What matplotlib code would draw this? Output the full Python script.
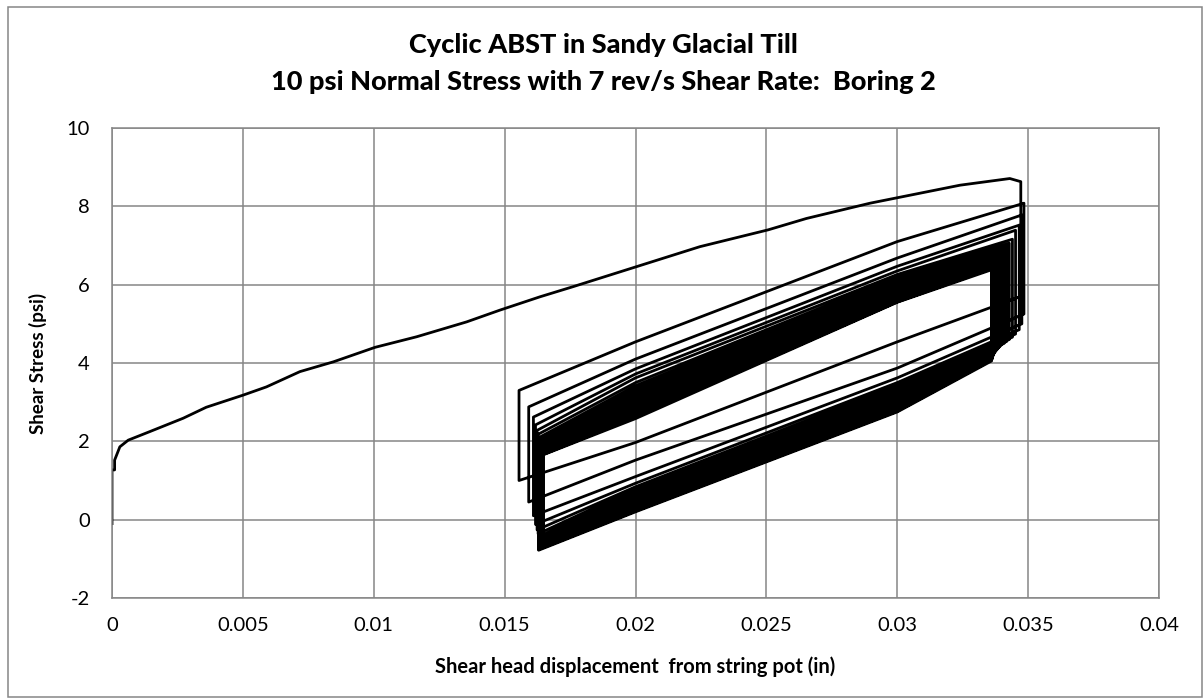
import numpy as np
import matplotlib.pyplot as plt
from matplotlib.patches import Rectangle

plt.rcParams['font.family'] = ['Lato', 'DejaVu Sans']
plt.rcParams['axes.unicode_minus'] = False

# first loading (virgin) curve
virgin_x = [0.0, 0.0, 0.0001, 0.0001, 0.0003, 0.00062, 0.00145, 0.00272, 0.0036,
            0.00501, 0.0059, 0.00718, 0.00846, 0.01005, 0.01164, 0.01355, 0.01482,
            0.01635, 0.01762, 0.02004, 0.02246, 0.02507, 0.02653, 0.02896, 0.0324,
            0.0343]
virgin_y = [-0.1, 1.27, 1.27, 1.52, 1.86, 2.03, 2.25, 2.59, 2.87, 3.18, 3.39, 3.78,
            4.03, 4.40, 4.67, 5.05, 5.35, 5.69, 5.95, 6.46, 6.97, 7.40, 7.69, 8.08,
            8.54, 8.71]

# turning points of each shear cycle (upper branch read at x=0.02 / 0.03,
# lower branch read at x=0.03 / 0.02)
xa, xb = 0.02, 0.03
up_a = [np.nan, 4.54, 4.10, 3.85, 3.72, 3.62,
        3.50, 3.42, 3.35, 3.28, 3.22, 3.16, 3.10, 3.04, 2.98, 2.93, 2.88, 2.83,
        2.78, 2.74, 2.70, 2.66, 2.62, 2.58]
up_b = [np.nan, 7.10, 6.68, 6.47, 6.35, 6.26,
        6.20, 6.14, 6.08, 6.03, 5.98, 5.93, 5.88, 5.84, 5.80, 5.76, 5.72, 5.68,
        5.65, 5.62, 5.60, 5.58, 5.56, 5.55]
peak = [8.63, 8.08, 7.78, 7.52, 7.39, 7.16,
        7.06, 7.00, 6.93, 6.88, 6.83, 6.79, 6.75, 6.71, 6.67, 6.64, 6.61, 6.58,
        6.55, 6.52, 6.48, 6.45, 6.41, 6.38]
x_right = [0.03472, 0.03484, 0.03476, 0.03466, 0.03452, 0.03440,
           0.03428, 0.03418, 0.03408, 0.03398, 0.03392, 0.03388, 0.03384, 0.03380,
           0.03376, 0.03373, 0.03370, 0.03368, 0.03366, 0.03364, 0.03363, 0.03362,
           0.03361, 0.03360]
drop = [5.70, 5.25, 5.00, 4.85, 4.74, 4.66,
        4.60, 4.55, 4.50, 4.46, 4.42, 4.39, 4.36, 4.33, 4.30, 4.27, 4.24, 4.21,
        4.18, 4.15, 4.12, 4.10, 4.08, 4.05]
lo_b = [4.54, 3.87, 3.62, 3.50, 3.43, 3.38,
        3.35, 3.31, 3.27, 3.23, 3.19, 3.15, 3.11, 3.07, 3.03, 2.99, 2.95, 2.91,
        2.88, 2.85, 2.82, 2.79, 2.77, 2.75]
lo_a = [1.97, 1.52, 1.10, 0.93, 0.84, 0.79,
        0.74, 0.69, 0.64, 0.60, 0.56, 0.52, 0.48, 0.45, 0.42, 0.39, 0.36, 0.33,
        0.31, 0.28, 0.26, 0.24, 0.22, 0.20]
x_left = [0.01555, 0.01592, 0.01610, 0.01618, 0.01624, 0.01628,
          0.01632, 0.01635, 0.01638, 0.01641, 0.01644, 0.01646, 0.01648, 0.01645,
          0.01642, 0.01640, 0.01638, 0.01636, 0.01634, 0.01633, 0.01632, 0.01631,
          0.01630, 0.01630]
trough = [1.00, 0.45, 0.10, -0.12, -0.26, -0.36,
          -0.43, -0.49, -0.53, -0.57, -0.60, -0.62, -0.64, -0.66, -0.68, -0.69,
          -0.70, -0.71, -0.72, -0.73, -0.74, -0.75, -0.76, -0.78]
rise = [3.30, 2.88, 2.62, 2.42, 2.28, 2.18,
        2.10, 2.03, 1.97, 1.92, 1.88, 1.84, 1.81, 1.78, 1.75, 1.72, 1.70, 1.68,
        1.66, 1.65, 1.63, 1.62, 1.61, 1.60]

xs = list(virgin_x)
ys = list(virgin_y)
for k in range(len(peak)):
    if k > 0:
        xs += [xa, xb]
        ys += [up_a[k], up_b[k]]
    xs += [x_right[k], x_right[k], xb, xa, x_left[k], x_left[k]]
    ys += [peak[k], drop[k], lo_b[k], lo_a[k], trough[k], rise[k]]

fig = plt.figure(figsize=(12.04, 6.98), dpi=100)
ax = fig.add_axes([112 / 1204, 1 - 598 / 698, 1047 / 1204, 470 / 698])

ax.plot(xs, ys, color='black', lw=2.0, solid_joinstyle='round')

ax.set_xlim(0, 0.04)
ax.set_ylim(-2, 10)
ax.set_xticks(np.arange(0, 0.0401, 0.005))
ax.set_xticklabels(['0', '0.005', '0.01', '0.015', '0.02', '0.025', '0.03', '0.035', '0.04'])
ax.set_yticks(range(-2, 11, 2))
ax.grid(True, color='#868686', lw=1.1)
ax.set_axisbelow(True)
for s in ax.spines.values():
    s.set_color('#868686')
    s.set_linewidth(1.1)
ax.tick_params(length=0, labelsize=14.5)
ax.tick_params(axis='x', pad=14)
ax.tick_params(axis='y', pad=16)

ax.set_xlabel('Shear head displacement  from string pot (in)', fontsize=14.5,
              fontweight='bold', labelpad=16)
ax.set_ylabel('Shear Stress (psi)', fontsize=13.5, fontweight='bold', labelpad=14)

fig.text(0.501, 1 - 45 / 698, 'Cyclic ABST in Sandy Glacial Till', ha='center',
         va='center', fontsize=19.5, fontweight='black')
fig.text(0.501, 1 - 82 / 698, '10 psi Normal Stress with 7 rev/s Shear Rate:  Boring 2',
         ha='center', va='center', fontsize=19.5, fontweight='black')

fig.patches.append(Rectangle((8 / 1204, 1 / 698), 1194 / 1204, 690 / 698,
                             transform=fig.transFigure, fill=False,
                             edgecolor='#868686', lw=1.1))

fig.savefig('out.png', dpi=100)
